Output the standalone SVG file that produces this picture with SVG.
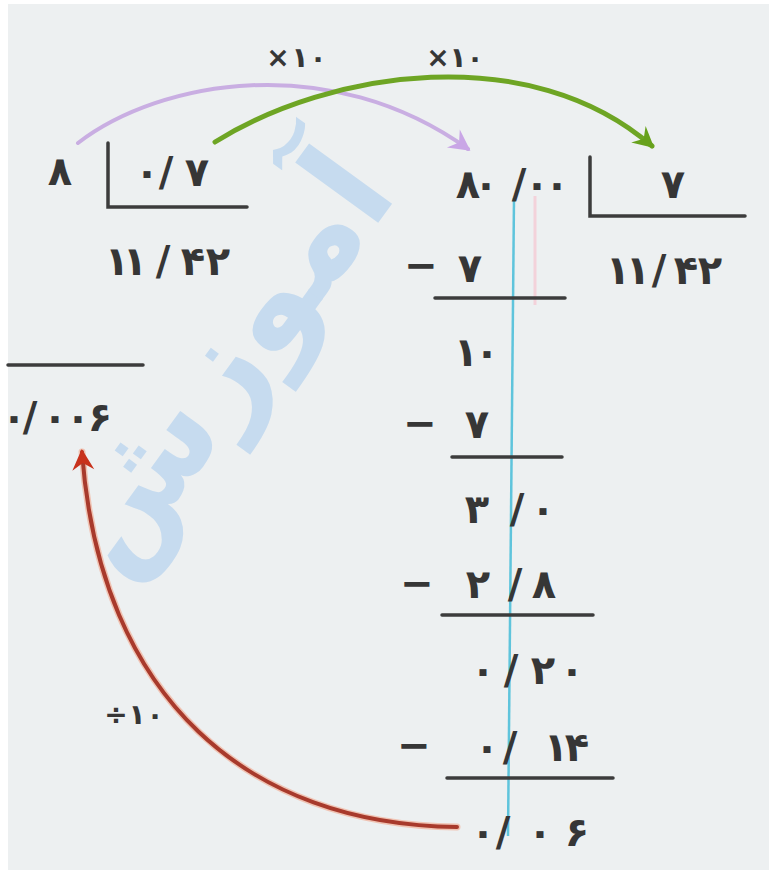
<svg xmlns="http://www.w3.org/2000/svg" width="769" height="870" viewBox="0 0 769 870">
<style>
.t{font-family:"DejaVu Sans",sans-serif;font-weight:bold;fill:#363636;text-anchor:middle}
.d{font-size:40px}
.s{font-size:28px}
.rule{stroke:#3c3c3c;stroke-width:3.5;fill:none;stroke-linecap:round}
.arc{fill:none;stroke-linecap:round}
.wm{font-family:"DejaVu Sans",sans-serif;font-weight:bold;font-size:135px;fill:#c6dbef;text-anchor:middle}
</style>
<defs>
<marker id="hp" markerUnits="userSpaceOnUse" viewBox="-20 -12 24 24" refX="0" refY="0" markerWidth="24" markerHeight="24" orient="auto">
<path d="M3,0 L-18,-11 L-11,0 L-18,11 Z" fill="#c9a6e6"/>
</marker>
<marker id="hg" markerUnits="userSpaceOnUse" viewBox="-20 -12 24 24" refX="0" refY="0" markerWidth="24" markerHeight="24" orient="auto">
<path d="M3,0 L-18,-11 L-11,0 L-18,11 Z" fill="#67a11c"/>
</marker>
<marker id="hr" markerUnits="userSpaceOnUse" viewBox="-20 -12 24 24" refX="0" refY="0" markerWidth="24" markerHeight="24" orient="auto">
<path d="M3,0 L-18,-11 L-11,0 L-18,11 Z" fill="#c8321c"/>
</marker>
</defs>
<rect width="769" height="870" fill="#ffffff"/>
<rect x="8" y="4" width="761" height="866" fill="#edf0f1"/>
<text class="wm" transform="translate(258,388) rotate(-54)">آموزش</text>

<g id="guides">
<line x1="535" y1="196" x2="535" y2="305" stroke="#f3d2da" stroke-width="3"/>
<line x1="514" y1="198" x2="508" y2="836" stroke="#5fc4dc" stroke-width="2.5"/>
</g>

<g id="connectors">
<path class="arc" d="M78,143 C160,80 330,50 468,149" stroke="#c9aee2" stroke-width="4" marker-end="url(#hp)"/>
<path class="arc" d="M215,142 C330,70 530,40 652,146" stroke="#6ea524" stroke-width="5" marker-end="url(#hg)"/>
<path class="arc" d="M457,827 C250,825 100,700 82,452" stroke="#f2a58a" stroke-width="7" opacity="0.6"/>
<path class="arc" d="M457,827 C250,825 100,700 82,452" stroke="#a83a2c" stroke-width="4" marker-end="url(#hr)"/>
</g>

<g id="label-x10-a"><text class="t s" x="278 300 318" y="67">×۱۰</text></g>
<g id="label-x10-b"><text class="t s" x="438 458 475" y="67">×۱۰</text></g>
<g id="label-div10"><text class="t s" x="116 137 155" y="724">÷۱۰</text></g>

<g id="left-division">
<text class="t d" x="60" y="185">۸</text>
<path class="rule" d="M108,143 V207 H247"/>
<text class="t d" x="147 166 197" y="186">۰/۷</text>
<text class="t d" x="117 135 163 193 218" y="275">۱۱/۴۲</text>
</g>

<g id="left-result">
<line class="rule" x1="8" y1="365" x2="143" y2="365"/>
<text class="t d" x="14 30 55 78 100" y="431">۰/۰۰۶</text>
</g>

<g id="right-division">
<text class="t d" x="468 486 519 537 557" y="198">۸۰/۰۰</text>
<path class="rule" d="M590,157 V216 H745"/>
<text class="t d" x="673" y="198">۷</text>
<text class="t d" x="618 638 659 686 710" y="284">۱۱/۴۲</text>
</g>

<g id="steps">
<text class="t d" x="421" y="279">−</text>
<text class="t d" x="470" y="282">۷</text>
<line class="rule" x1="435" y1="298" x2="565" y2="298"/>
<text class="t d" x="466 487" y="366">۱۰</text>
<text class="t d" x="420" y="437">−</text>
<text class="t d" x="477" y="438">۷</text>
<line class="rule" x1="452" y1="457" x2="562" y2="457"/>
<text class="t d" x="477 517 543" y="523">۳/۰</text>
<text class="t d" x="417" y="597">−</text>
<text class="t d" x="478 515 544" y="598">۲/۸</text>
<line class="rule" x1="442" y1="615" x2="593" y2="615"/>
<text class="t d" x="483 511 543 572" y="684">۰/۲۰</text>
<text class="t d" x="414" y="759">−</text>
<text class="t d" x="487 510 556 577" y="761">۰/۱۴</text>
<line class="rule" x1="447" y1="778" x2="613" y2="778"/>
<text class="t d" x="483 503 540 577" y="846">۰/۰۶</text>
</g>
</svg>
